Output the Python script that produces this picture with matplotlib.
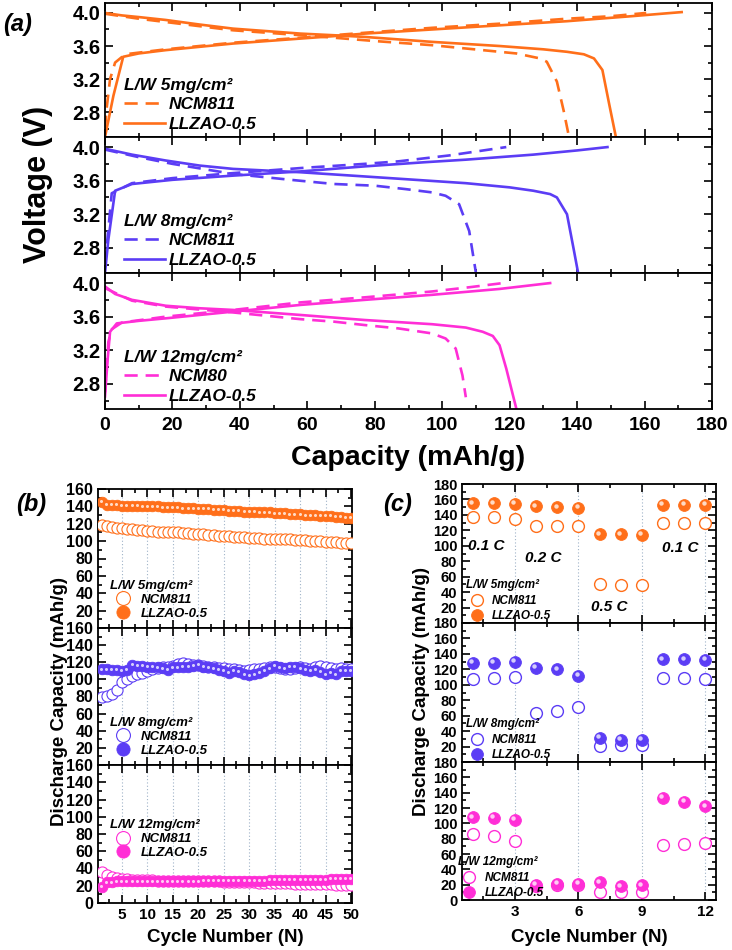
import matplotlib
matplotlib.use('Agg')
import matplotlib.pyplot as plt
from matplotlib.ticker import MultipleLocator, FixedLocator, NullFormatter
import matplotlib.transforms as mtrans

plt.rcParams['font.family'] = ['Liberation Sans', 'DejaVu Sans']
plt.rcParams['font.weight'] = 'bold'
plt.rcParams['axes.linewidth'] = 1.3

ORANGE = '#FF6F1A'
BLUE = '#5B3DF5'
MAGENTA = '#FF2ED6'
GRID = '#9FB3C8'

# ---------------- Panel (a): voltage profiles ----------------
# 5 mg/cm2
cap5_llzao_ch = [0, 2.5, 5.4, 10, 18, 28, 38, 48, 58, 68, 77, 97, 117, 137, 156, 171]
v5_llzao_ch = [2.5, 3.0, 3.47, 3.51, 3.55, 3.59, 3.63, 3.66, 3.69, 3.72, 3.75, 3.80, 3.85, 3.90, 3.96, 4.01]
cap5_llzao_dis = [0, 5, 10, 18, 28, 38, 48, 58, 68, 77, 97, 117, 130, 137, 142, 145, 147.5, 149.5, 151.5]
v5_llzao_dis = [4.0, 3.97, 3.95, 3.915, 3.86, 3.81, 3.78, 3.75, 3.73, 3.71, 3.65, 3.60, 3.56, 3.53, 3.50, 3.45, 3.31, 2.9, 2.5]
cap5_ncm_ch = [0, 0.5, 1.5, 3, 6, 18, 38, 58, 77, 97, 117, 137, 150, 160.5]
v5_ncm_ch = [2.6, 2.85, 3.2, 3.4, 3.5, 3.56, 3.64, 3.70, 3.76, 3.82, 3.87, 3.93, 3.96, 4.0]
cap5_ncm_dis = [0, 10, 20, 38, 55, 68, 80, 97, 112, 122, 129, 131, 134, 136, 137.6]
v5_ncm_dis = [3.99, 3.93, 3.88, 3.79, 3.74, 3.70, 3.66, 3.61, 3.55, 3.51, 3.45, 3.41, 3.17, 2.82, 2.5]

# 8 mg/cm2
cap8_llzao_ch = [0, 1, 3, 8, 20, 38, 58, 77, 95, 107, 127, 140, 149]
v8_llzao_ch = [2.5, 2.9, 3.48, 3.56, 3.61, 3.66, 3.71, 3.77, 3.82, 3.85, 3.91, 3.96, 4.0]
cap8_llzao_dis = [0, 8, 18, 28, 38, 58, 77, 107, 120, 127, 132, 134, 137, 139, 140.3]
v8_llzao_dis = [3.98, 3.91, 3.84, 3.78, 3.74, 3.70, 3.65, 3.57, 3.52, 3.48, 3.44, 3.40, 3.2, 2.78, 2.5]
cap8_ncm_ch = [0, 2, 8, 20, 38, 58, 77, 87, 102, 119]
v8_ncm_ch = [2.6, 3.45, 3.57, 3.63, 3.69, 3.75, 3.80, 3.83, 3.90, 4.0]
cap8_ncm_dis = [0, 10, 20, 38, 55, 68, 80, 89, 97, 101, 105, 108, 110]
v8_ncm_dis = [3.97, 3.88, 3.80, 3.68, 3.61, 3.56, 3.54, 3.50, 3.46, 3.42, 3.32, 3.0, 2.5]

# 12 mg/cm2
cap12_llzao_ch = [0, 0.8, 1.5, 3.5, 10, 18, 28, 38, 58, 77, 97, 117, 132]
v12_llzao_ch = [2.65, 3.1, 3.42, 3.52, 3.55, 3.58, 3.62, 3.66, 3.74, 3.80, 3.86, 3.93, 4.0]
cap12_llzao_dis = [0, 3, 8, 18, 28, 38, 58, 77, 97, 107, 112, 115, 117, 119, 122]
v12_llzao_dis = [3.96, 3.87, 3.80, 3.73, 3.70, 3.68, 3.62, 3.56, 3.51, 3.47, 3.42, 3.37, 3.26, 2.98, 2.5]
cap12_ncm_ch = [0, 1, 2, 5, 18, 38, 58, 77, 97, 108, 118]
v12_ncm_ch = [2.7, 3.3, 3.45, 3.53, 3.60, 3.68, 3.77, 3.83, 3.90, 3.95, 4.0]
cap12_ncm_dis = [0, 8, 18, 38, 58, 68, 77, 87, 97, 101, 104, 106, 107]
v12_ncm_dis = [3.94, 3.79, 3.72, 3.65, 3.57, 3.54, 3.50, 3.46, 3.40, 3.34, 3.22, 2.90, 2.64]

# ---------------- Panel (b): cycling ----------------
cycles_b = list(range(1, 51))
b5_ncm = [119, 117, 116, 115, 115, 114, 114, 113, 113, 112, 112, 111, 111, 110, 110, 110, 109, 109, 108, 108,
          108, 107, 107, 106, 106, 106, 105, 105, 105, 104, 104, 104, 103, 103, 103, 102, 102, 102, 101, 101,
          101, 100, 100, 100, 99, 99, 99, 98, 98, 98]
b5_llzao = [145, 142, 142, 142, 141, 141, 141, 141, 140, 140, 140, 140, 139, 139, 139, 139, 138, 138, 138, 137,
            137, 137, 136, 136, 136, 135, 135, 135, 134, 134, 134, 133, 133, 133, 132, 132, 132, 131, 131, 131,
            130, 130, 130, 129, 129, 129, 128, 128, 127, 127]
b8_ncm = [80, 81, 83, 88, 97, 100, 104, 106, 108, 110, 112, 113, 114, 115, 116, 118, 119, 118, 117, 117,
          116, 115, 114, 113, 113, 112, 112, 111, 110, 111, 112, 112, 113, 114, 114, 113, 112, 112, 113, 114,
          113, 112, 115, 116, 114, 113, 112, 113, 112, 112]
b8_llzao = [112, 112, 111, 111, 110, 111, 117, 116, 116, 115, 115, 114, 113, 111, 114, 114, 115, 115, 116, 117,
            115, 114, 113, 111, 110, 108, 110, 109, 106, 105, 106, 108, 110, 113, 116, 114, 113, 115, 115, 113,
            111, 110, 111, 109, 106, 108, 106, 110, 110, 110]
b12_ncm = [36, 32, 30, 29, 28, 28, 27, 27, 27, 27, 27, 26, 26, 26, 26, 26, 26, 25, 25, 25,
           25, 25, 25, 25, 24, 24, 24, 24, 24, 24, 24, 23, 23, 23, 23, 23, 23, 23, 22, 22,
           22, 22, 22, 22, 22, 22, 21, 21, 21, 21]
b12_llzao = [19, 24, 24, 25, 25, 25, 25, 25, 25, 25, 25, 25, 25, 25, 25, 25, 25, 25, 25, 25,
             26, 26, 26, 26, 26, 26, 26, 26, 26, 26, 26, 26, 26, 27, 27, 27, 27, 27, 27, 27,
             27, 27, 27, 27, 27, 28, 28, 28, 28, 28]

# ---------------- Panel (c): rate capability ----------------
cycles_c = list(range(1, 13))
c5_ncm = [137, 137, 135, 125, 125, 126, 50, 49, 49, 130, 130, 130]
c5_llzao = [155, 155, 154, 151, 150, 149, 115, 115, 114, 153, 153, 153]
c8_ncm = [107, 109, 110, 64, 66, 71, 21, 22, 22, 109, 109, 108]
c8_llzao = [128, 128, 130, 122, 120, 112, 31, 29, 29, 133, 133, 132]
c12_ncm = [86, 84, 77, 18, 19, 19, 11, 10, 10, 72, 73, 74]
c12_llzao = [108, 107, 105, 20, 21, 21, 23, 18, 19, 133, 128, 122]
rate_labels = ['0.1 C', '0.2 C', '0.5 C', '0.1 C']

loadings = ['L/W 5mg/cm²', 'L/W 8mg/cm²', 'L/W 12mg/cm²']
ncm_names_a = ['NCM811', 'NCM811', 'NCM80']

fig = plt.figure(figsize=(7.32, 9.5), dpi=100)
W, H = 732.0, 950.0


def style_ticks(ax, xsize, ysize, xpad=3.5):
    ax.tick_params(which='both', direction='in', top=True, right=True, width=1.2)
    ax.tick_params(which='major', length=6)
    ax.tick_params(which='minor', length=3)
    ax.tick_params(axis='x', labelsize=xsize, pad=xpad)
    ax.tick_params(axis='y', labelsize=ysize)
    for lab in ax.get_xticklabels() + ax.get_yticklabels():
        lab.set_fontweight('bold')


# ---- (a)
a_tops = [3, 137, 273, 409]
a_data = [
    (ORANGE, cap5_ncm_ch, v5_ncm_ch, cap5_ncm_dis, v5_ncm_dis, cap5_llzao_ch, v5_llzao_ch, cap5_llzao_dis, v5_llzao_dis),
    (BLUE, cap8_ncm_ch, v8_ncm_ch, cap8_ncm_dis, v8_ncm_dis, cap8_llzao_ch, v8_llzao_ch, cap8_llzao_dis, v8_llzao_dis),
    (MAGENTA, cap12_ncm_ch, v12_ncm_ch, cap12_ncm_dis, v12_ncm_dis, cap12_llzao_ch, v12_llzao_ch, cap12_llzao_dis, v12_llzao_dis),
]
for i in range(3):
    t, b = a_tops[i], a_tops[i + 1]
    ax = fig.add_axes([105 / W, 1 - b / H, 607 / W, (b - t) / H])
    col, nc, nv, ndc, ndv, lc, lv, ldc, ldv = a_data[i]
    h1, = ax.plot(nc, nv, color=col, lw=1.9, ls=(0, (5, 3)), label=ncm_names_a[i])
    ax.plot(ndc, ndv, color=col, lw=1.9, ls=(0, (5, 3)))
    h2, = ax.plot(lc, lv, color=col, lw=1.9, label='LLZAO-0.5')
    ax.plot(ldc, ldv, color=col, lw=1.9)
    ax.set_xlim(0, 180)
    ax.set_ylim(2.5, 4.12)
    ax.yaxis.set_major_locator(FixedLocator([2.8, 3.2, 3.6, 4.0]))
    ax.yaxis.set_minor_locator(MultipleLocator(0.2))
    ax.xaxis.set_major_locator(MultipleLocator(20))
    ax.xaxis.set_minor_locator(MultipleLocator(10))
    ax.set_yticklabels(['2.8', '3.2', '3.6', '4.0'])
    if i < 2:
        ax.xaxis.set_major_formatter(NullFormatter())
    style_ticks(ax, 14, 14.5, xpad=6)
    ax.legend(handles=[h1, h2], title=loadings[i], loc='lower left',
              bbox_to_anchor=(0.022, 0.0), frameon=False, borderaxespad=0.2,
              borderpad=0.1, handlelength=2.4, handletextpad=0.2, labelspacing=0.25,
              prop=dict(size=12.5, weight='bold', style='italic'),
              title_fontproperties=dict(size=12.5, weight='bold', style='italic'),
              alignment='left')

fig.text(38 / W, 1 - 184 / H, 'Voltage (V)', rotation=90, ha='center', va='center',
         fontsize=22, fontweight='bold')
fig.text(408 / W, 1 - 458 / H, 'Capacity (mAh/g)', ha='center', va='center',
         fontsize=20.5, fontweight='bold')


def highlight(ax, x, y, ms, off):
    tr = mtrans.offset_copy(ax.transData, fig=fig, x=-off, y=off, units='points')
    ax.plot(x, y, ls='none', marker='o', ms=ms, mfc='white', mec='none', alpha=0.75,
            transform=tr, zorder=5)


# ---- (b)
b_tops = [489, 628, 765, 903]
b_sets = [(ORANGE, b5_ncm, b5_llzao), (BLUE, b8_ncm, b8_llzao), (MAGENTA, b12_ncm, b12_llzao)]
b_leg_y = [0.03, 0.03, 0.29]
for i in range(3):
    t, b = b_tops[i], b_tops[i + 1]
    ax = fig.add_axes([98 / W, 1 - b / H, 254 / W, (b - t) / H])
    col, dn, dl = b_sets[i]
    for g in range(5, 50, 5):
        ax.axvline(g, color=GRID, lw=0.8, ls=(0, (1, 2)), zorder=0)
    h1, = ax.plot(cycles_b, dn, ls='none', marker='o', ms=8, mfc='white', mec=col, mew=0.8,
                  label='NCM811', zorder=3)
    h2, = ax.plot(cycles_b, dl, ls='none', marker='o', ms=7.6, mfc=col, mec=col, mew=0.6,
                  label='LLZAO-0.5', zorder=4)
    highlight(ax, cycles_b, dl, 2.2, 0.4)
    ax.set_xlim(0.3, 50.2)
    ax.set_ylim(0, 160)
    if i < 2:
        ax.yaxis.set_major_locator(FixedLocator(list(range(20, 161, 20))))
        ax.xaxis.set_major_formatter(NullFormatter())
    else:
        ax.yaxis.set_major_locator(FixedLocator(list(range(0, 161, 20))))
    ax.yaxis.set_minor_locator(MultipleLocator(10))
    ax.xaxis.set_major_locator(MultipleLocator(5))
    ax.xaxis.set_minor_locator(MultipleLocator(2.5))
    style_ticks(ax, 11, 11.5)
    ax.legend(handles=[h1, h2], title=loadings[i], loc='lower left',
              bbox_to_anchor=(0.03, b_leg_y[i]), frameon=False, borderaxespad=0.2,
              borderpad=0.1, handlelength=2.1, handletextpad=0.3, labelspacing=0.12,
              numpoints=1, markerscale=1.25,
              prop=dict(size=9.5, weight='bold', style='italic'),
              title_fontproperties=dict(size=9.5, weight='bold', style='italic'),
              alignment='left')

fig.text(60 / W, 1 - 702 / H, 'Discharge Capacity (mAh/g)', rotation=90, ha='center',
         va='center', fontsize=13.5, fontweight='bold')
fig.text(225 / W, 1 - 938 / H, 'Cycle Number (N)', ha='center', va='center',
         fontsize=13.5, fontweight='bold')

# ---- (c)
c_tops = [484, 623, 762, 900]
c_sets = [(ORANGE, c5_ncm, c5_llzao), (BLUE, c8_ncm, c8_llzao), (MAGENTA, c12_ncm, c12_llzao)]
for i in range(3):
    t, b = c_tops[i], c_tops[i + 1]
    ax = fig.add_axes([462 / W, 1 - b / H, 254 / W, (b - t) / H])
    col, dn, dl = c_sets[i]
    for g in (3, 6, 9, 12):
        ax.axvline(g, color=GRID, lw=0.8, ls=(0, (1, 2)), zorder=0)
    h1, = ax.plot(cycles_c, dn, ls='none', marker='o', ms=8.5, mfc='white', mec=col, mew=1.0,
                  label='NCM811', zorder=3)
    h2, = ax.plot(cycles_c, dl, ls='none', marker='o', ms=8.5, mfc=col, mec=col, mew=0.6,
                  label='LLZAO-0.5', zorder=4)
    highlight(ax, cycles_c, dl, 3.2, 1.2)
    ax.set_xlim(0.5, 12.5)
    ax.set_ylim(0, 180)
    if i < 2:
        ax.yaxis.set_major_locator(FixedLocator(list(range(20, 181, 20))))
        ax.xaxis.set_major_formatter(NullFormatter())
    else:
        ax.yaxis.set_major_locator(FixedLocator(list(range(0, 181, 20))))
    ax.yaxis.set_minor_locator(MultipleLocator(10))
    ax.xaxis.set_major_locator(MultipleLocator(3))
    ax.xaxis.set_minor_locator(MultipleLocator(1.5))
    style_ticks(ax, 11, 10.5)
    ax.legend(handles=[h1, h2], title=loadings[i], loc='lower left',
              bbox_to_anchor=(-0.03 if i == 2 else 0.0, -0.02), frameon=False, borderaxespad=0.2,
              borderpad=0.1, handlelength=1.9, handletextpad=0.35, labelspacing=0.3,
              numpoints=1, markerscale=1.0,
              prop=dict(size=8.5, weight='bold', style='italic'),
              title_fontproperties=dict(size=8.5, weight='bold', style='italic'),
              alignment='left')
    if i == 0:
        rate_x = [0.78, 3.46, 6.6, 9.94]
        rate_y = [100, 84, 21, 97]
        for lab, rx, ry in zip(rate_labels, rate_x, rate_y):
            ax.text(rx, ry, lab, ha='left', va='center', fontsize=11,
                    fontweight='bold', fontstyle='italic')

fig.text(421 / W, 1 - 692 / H, 'Discharge Capacity (mAh/g)', rotation=90, ha='center',
         va='center', fontsize=13.5, fontweight='bold')
fig.text(589 / W, 1 - 938 / H, 'Cycle Number (N)', ha='center', va='center',
         fontsize=13.5, fontweight='bold')

# panel labels
fig.text(18 / W, 1 - 24 / H, '(a)', ha='center', va='center', fontsize=17,
         fontweight='bold', fontstyle='italic')
fig.text(31 / W, 1 - 505 / H, '(b)', ha='center', va='center', fontsize=17,
         fontweight='bold', fontstyle='italic')
fig.text(398 / W, 1 - 505 / H, '(c)', ha='center', va='center', fontsize=17,
         fontweight='bold', fontstyle='italic')

fig.savefig('out.png', dpi=100)
